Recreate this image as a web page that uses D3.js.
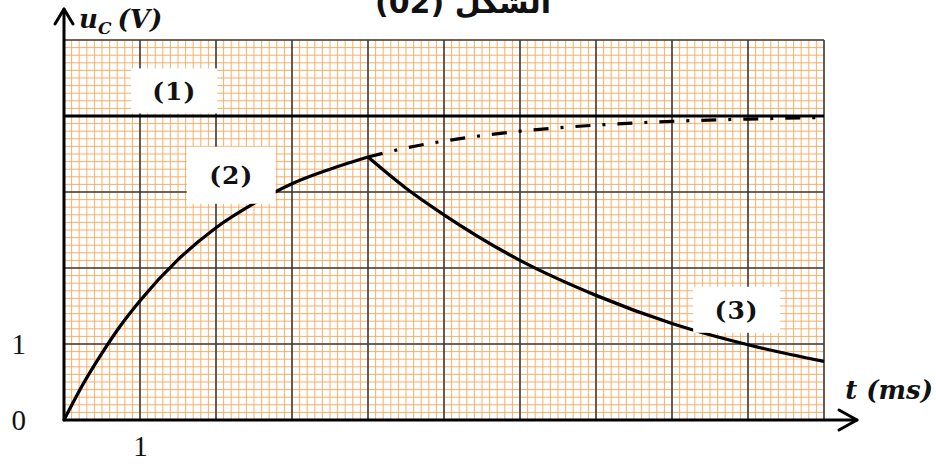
<!DOCTYPE html>
<html>
<head>
<meta charset="utf-8">
<script src="https://cdn.jsdelivr.net/npm/d3@7"></script>
<style>
  html, body { margin: 0; padding: 0; background: #fff; }
  svg { display: block; }
</style>
</head>
<body>
<svg id="chart" width="936" height="466"></svg>
<script>
// Capacitor voltage u_C (V) against time t (ms)
const tSource = [0, 10];
const uSource = [4, 4];                       // (1) generator voltage E

const tCharge = [0, 0.25, 0.5, 0.75, 1, 1.5, 2, 2.5, 3, 3.5, 4];
const uCharge = [0, 0.47, 0.88, 1.25, 1.57, 2.11, 2.53, 2.85, 3.11, 3.30, 3.46];   // (2)

const tContinued = [4, 4.5, 5, 6, 7, 8, 9, 10];
const uContinued = [3.46, 3.58, 3.67, 3.80, 3.88, 3.93, 3.96, 3.98];             // charge continued (dash-dot)

const tDischarge = [4, 4.5, 5, 6, 7, 8, 9, 10];
const uDischarge = [3.46, 3.05, 2.70, 2.10, 1.64, 1.27, 0.99, 0.77];             // (3)

const xTickValues = [1];
const xTickLabels = ["1"];
const yTickValues = [0, 1];
const yTickLabels = ["0", "1"];

const svg = d3.select("#chart");

const x = d3.scaleLinear().domain([0, 10]).range([64, 824]);
const y = d3.scaleLinear().domain([0, 5]).range([420, 40]);

// millimetre paper: fine orange lines
const minor = d3.range(0, 101).map(i => i / 10);
const minorY = d3.range(0, 51).map(i => i / 10);
const grid = svg.append("g");
grid.selectAll("line.mv").data(minor).join("line")
  .attr("x1", d => x(d)).attr("x2", d => x(d))
  .attr("y1", y(0)).attr("y2", y(5))
  .attr("stroke", "#f8a658").attr("stroke-width", 0.9);
grid.selectAll("line.mh").data(minorY).join("line")
  .attr("x1", x(0)).attr("x2", x(10))
  .attr("y1", d => y(d)).attr("y2", d => y(d))
  .attr("stroke", "#f8a658").attr("stroke-width", 0.9);

// major divisions
const gridM = svg.append("g");
gridM.selectAll("line.Mv").data(d3.range(1, 11)).join("line")
  .attr("x1", d => x(d)).attr("x2", d => x(d))
  .attr("y1", y(0)).attr("y2", y(5))
  .attr("stroke", "#3c3c3c").attr("stroke-width", 1.6);
gridM.selectAll("line.Mh").data(d3.range(1, 6)).join("line")
  .attr("x1", x(0)).attr("x2", x(10))
  .attr("y1", d => y(d)).attr("y2", d => y(d))
  .attr("stroke", "#3c3c3c").attr("stroke-width", 1.6);

const line = d3.line().x(d => x(d[0])).y(d => y(d[1])).curve(d3.curveMonotoneX);
const zip = (a, b) => a.map((v, i) => [v, b[i]]);

// (1) constant voltage
svg.append("path").datum(zip(tSource, uSource))
  .attr("d", line).attr("fill", "none")
  .attr("stroke", "#000").attr("stroke-width", 3);

// continuation of the charge
svg.append("path").datum(zip(tContinued, uContinued))
  .attr("d", line).attr("fill", "none")
  .attr("stroke", "#000").attr("stroke-width", 3.2)
  .attr("stroke-dasharray", "15,12,3,12");

// (2) charge
svg.append("path").datum(zip(tCharge, uCharge))
  .attr("d", line).attr("fill", "none")
  .attr("stroke", "#000").attr("stroke-width", 3.3)
  .attr("stroke-linejoin", "round");

// (3) discharge
svg.append("path").datum(zip(tDischarge, uDischarge))
  .attr("d", line).attr("fill", "none")
  .attr("stroke", "#000").attr("stroke-width", 3.3);

// curve labels on white patches
const labels = [
  { text: "(1)", t: 1.45, u: 4.33, w: 86, h: 45 },
  { text: "(2)", t: 2.2, u: 3.22, w: 89, h: 57 },
  { text: "(3)", t: 8.85, u: 1.45, w: 87, h: 46 }
];
const lab = svg.append("g");
labels.forEach(l => {
  lab.append("rect")
    .attr("x", x(l.t) - l.w / 2).attr("y", y(l.u) - l.h / 2)
    .attr("width", l.w).attr("height", l.h)
    .attr("fill", "#fff");
  lab.append("text")
    .attr("x", x(l.t)).attr("y", y(l.u))
    .attr("dy", "0.36em")
    .attr("text-anchor", "middle")
    .attr("font-family", "'DejaVu Serif', serif")
    .attr("font-weight", "bold")
    .attr("font-size", 25)
    .attr("letter-spacing", 1)
    .attr("fill", "#111")
    .text(l.text);
});

// axes with arrows
const axisG = svg.append("g").attr("stroke", "#000").attr("fill", "none")
  .attr("stroke-width", 3).attr("stroke-linecap", "round").attr("stroke-linejoin", "round");
const xEnd = x(10) + 33, yEnd = y(5) - 31;
axisG.append("line").attr("x1", x(0)).attr("x2", xEnd).attr("y1", y(0)).attr("y2", y(0));
axisG.append("path").attr("d", `M${xEnd - 18},${y(0) - 10}L${xEnd},${y(0)}L${xEnd - 18},${y(0) + 10}`);
axisG.append("line").attr("x1", x(0)).attr("x2", x(0)).attr("y1", y(0)).attr("y2", yEnd);
axisG.append("path").attr("d", `M${x(0) - 9},${yEnd + 15}L${x(0)},${yEnd}L${x(0) + 9},${yEnd + 15}`);

// tick labels
const xAxis = d3.axisBottom(x).tickValues(xTickValues)
  .tickFormat((d, i) => xTickLabels[i]).tickSize(0).tickPadding(15);
const gx = svg.append("g").attr("transform", `translate(0,${y(0)})`).call(xAxis);
const yAxis = d3.axisLeft(y).tickValues(yTickValues)
  .tickFormat((d, i) => yTickLabels[i]).tickSize(0).tickPadding(38);
const gy = svg.append("g").attr("transform", `translate(${x(0)},0)`).call(yAxis);
[gx, gy].forEach(g => {
  g.select(".domain").remove();
  g.selectAll("text")
    .attr("font-family", "'Liberation Serif', serif")
    .attr("font-size", 29)
    .attr("fill", "#111");
});

// axis titles
const yt = svg.append("text")
  .attr("x", x(0) + 15).attr("y", 28)
  .attr("font-family", "'DejaVu Serif', serif")
  .attr("font-style", "italic").attr("font-weight", "bold")
  .attr("font-size", 26).attr("fill", "#111");
yt.append("tspan").text("u");
yt.append("tspan").attr("dy", 6).attr("font-size", 17).text("C");
yt.append("tspan").attr("dy", -6).attr("dx", 6).text("(V)");

svg.append("text")
  .attr("x", 933).attr("y", 399)
  .attr("text-anchor", "end")
  .attr("font-family", "'DejaVu Serif', serif")
  .attr("font-style", "italic").attr("font-weight", "bold")
  .attr("font-size", 26).attr("fill", "#111")
  .text("t (ms)");

// figure caption (top, partly clipped by the frame)
svg.append("text")
  .attr("x", 463).attr("y", 13)
  .attr("text-anchor", "middle")
  .attr("direction", "rtl")
  .attr("font-family", "'DejaVu Sans', sans-serif")
  .attr("font-weight", "bold")
  .attr("font-size", 30).attr("fill", "#111")
  .text("الشكل (02)");
</script>
</body>
</html>
